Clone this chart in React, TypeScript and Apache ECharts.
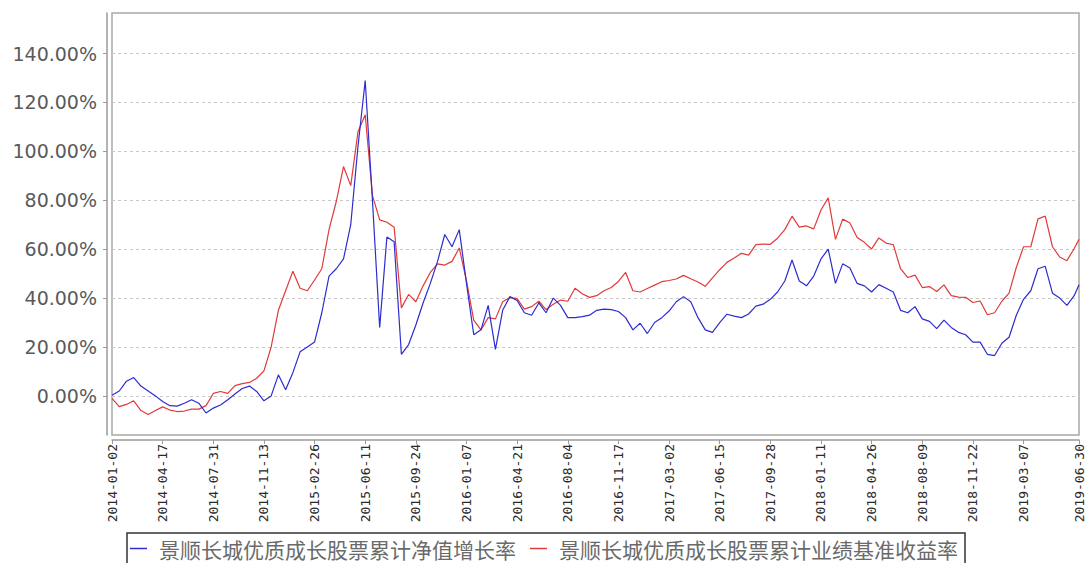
import React, { useEffect, useRef } from "react";
import * as echarts from "echarts";

const DATES = [
  "2014-01-02","2014-01-17","2014-02-01","2014-02-16","2014-03-03","2014-03-18","2014-04-02","2014-04-17","2014-05-02","2014-05-17",
  "2014-06-01","2014-06-16","2014-07-01","2014-07-16","2014-07-31","2014-08-15","2014-08-30","2014-09-14","2014-09-29","2014-10-14",
  "2014-10-29","2014-11-13","2014-11-28","2014-12-13","2014-12-28","2015-01-12","2015-01-27","2015-02-11","2015-02-26","2015-03-13",
  "2015-03-28","2015-04-12","2015-04-27","2015-05-12","2015-05-27","2015-06-11","2015-06-26","2015-07-11","2015-07-26","2015-08-10",
  "2015-08-25","2015-09-09","2015-09-24","2015-10-09","2015-10-24","2015-11-08","2015-11-23","2015-12-08","2015-12-23","2016-01-07",
  "2016-01-22","2016-02-06","2016-02-21","2016-03-07","2016-03-22","2016-04-06","2016-04-21","2016-05-06","2016-05-21","2016-06-05",
  "2016-06-20","2016-07-05","2016-07-20","2016-08-04","2016-08-19","2016-09-03","2016-09-18","2016-10-03","2016-10-18","2016-11-02",
  "2016-11-17","2016-12-02","2016-12-17","2017-01-01","2017-01-16","2017-01-31","2017-02-15","2017-03-02","2017-03-17","2017-04-01",
  "2017-04-16","2017-05-01","2017-05-16","2017-05-31","2017-06-15","2017-06-30","2017-07-15","2017-07-30","2017-08-14","2017-08-29",
  "2017-09-13","2017-09-28","2017-10-13","2017-10-28","2017-11-12","2017-11-27","2017-12-12","2017-12-27","2018-01-11","2018-01-26",
  "2018-02-10","2018-02-25","2018-03-12","2018-03-27","2018-04-11","2018-04-26","2018-05-11","2018-05-26","2018-06-10","2018-06-25",
  "2018-07-10","2018-07-25","2018-08-09","2018-08-24","2018-09-08","2018-09-23","2018-10-08","2018-10-23","2018-11-07","2018-11-22",
  "2018-12-07","2018-12-22","2019-01-06","2019-01-21","2019-02-05","2019-02-20","2019-03-07","2019-03-22","2019-04-06","2019-04-21",
  "2019-05-06","2019-05-21","2019-06-05","2019-06-20","2019-06-30",
];

const FUND_NAV = [
  0.3, 2.0, 6.0, 7.5, 4.0, 2.0, 0.0, -2.3, -4.0, -4.2,
  -3.0, -1.6, -3.0, -7.0, -5.0, -3.7, -1.6, 0.8, 3.0, 4.0,
  1.8, -2.0, 0.0, 8.6, 2.5, 9.5, 18.0, 20.0, 22.0, 34.0,
  49.0, 52.0, 56.0, 70.0, 102.0, 129.0, 80.0, 28.0, 65.0, 63.0,
  17.0, 21.0, 29.0, 38.0, 46.0, 55.0, 66.0, 61.0, 68.0, 46.0,
  25.0, 27.0, 37.0, 19.0, 35.0, 40.6, 39.0, 34.0, 33.0, 38.0,
  34.0, 40.0, 37.0, 32.0, 32.0, 32.4, 33.0, 35.0, 35.5, 35.3,
  34.5, 32.0, 27.0, 29.7, 25.5, 30.0, 32.0, 34.7, 38.5, 40.6,
  38.5, 32.0, 27.0, 26.0, 30.0, 33.4, 32.6, 32.0, 33.5, 36.7,
  37.5, 39.5, 42.5, 47.0, 55.6, 47.0, 45.0, 49.0, 56.0, 60.0,
  46.0, 54.0, 52.3, 46.0, 45.0, 42.5, 45.5, 44.0, 42.5, 35.0,
  34.0, 36.5, 31.5, 30.5, 27.5, 31.0, 28.0, 26.0, 25.0, 22.0,
  22.0, 17.0, 16.5, 21.5, 24.0, 33.0, 39.5, 43.0, 52.0, 53.0,
  42.0, 40.0, 37.0, 41.0, 45.5,
];

const BENCHMARK = [
  -1.0, -4.4, -3.5, -2.0, -6.0, -7.6, -6.0, -4.5, -5.8, -6.4,
  -6.2, -5.4, -5.4, -4.0, 1.0, 1.8, 1.0, 4.2, 5.0, 5.5,
  7.2, 10.2, 20.0, 35.0, 43.0, 51.0, 44.0, 43.0, 47.4, 52.0,
  68.0, 79.5, 93.8, 86.0, 108.0, 115.0, 82.0, 72.0, 71.0, 69.0,
  36.0, 41.5, 38.5, 45.0, 50.5, 54.0, 53.5, 55.0, 60.5, 47.0,
  31.0, 27.0, 32.0, 31.5, 38.5, 40.2, 39.8, 35.5, 36.5, 38.7,
  35.3, 37.5, 39.2, 38.7, 44.0, 41.8, 40.3, 41.0, 43.0, 44.3,
  46.8, 50.5, 43.0, 42.5, 43.9, 45.3, 46.7, 47.2, 47.8, 49.3,
  47.9, 46.6, 44.8, 48.3, 51.6, 54.6, 56.4, 58.3, 57.6, 61.9,
  62.1, 62.0, 64.5, 68.0, 73.5, 69.0, 69.5, 68.3, 76.0, 81.0,
  64.0, 72.3, 70.7, 64.8, 62.8, 60.1, 64.6, 62.5, 61.8, 52.0,
  48.4, 49.4, 44.3, 44.7, 42.7, 45.4, 41.0, 40.4, 40.3, 38.2,
  38.8, 33.2, 34.0, 38.7, 42.0, 52.5, 61.0, 61.0, 72.4, 73.5,
  61.0, 56.8, 55.3, 60.3, 64.0,
];

const X_TICKS = [
  "2014-01-02","2014-04-17","2014-07-31","2014-11-13","2015-02-26","2015-06-11","2015-09-24",
  "2016-01-07","2016-04-21","2016-08-04","2016-11-17","2017-03-02","2017-06-15","2017-09-28",
  "2018-01-11","2018-04-26","2018-08-09","2018-11-22","2019-03-07","2019-06-30",
];

const Y_TICKS = [0, 20, 40, 60, 80, 100, 120, 140];

const NAME_FUND = "景顺长城优质成长股票累计净值增长率";
const NAME_BENCH = "景顺长城优质成长股票累计业绩基准收益率";

const ts = (d: string) => {
  const [y, m, day] = d.split("-").map(Number);
  return Date.UTC(y, m - 1, day);
};
const fmt = (v: number) => {
  const dt = new Date(Math.round(v));
  const mm = String(dt.getUTCMonth() + 1).padStart(2, "0");
  const dd = String(dt.getUTCDate()).padStart(2, "0");
  return `${dt.getUTCFullYear()}-${mm}-${dd}`;
};

export default function App() {
  const ref = useRef<HTMLDivElement>(null);
  useEffect(() => {
    if (!ref.current) return;
    const chart = echarts.init(ref.current, undefined, { renderer: "svg" });
    const axisGray = "#9a9a9a";
    const xTickValues = X_TICKS.map(ts);
    chart.setOption({
      animation: false,
      backgroundColor: "#ffffff",
      grid: {
        left: 112,
        right: 7,
        top: 13,
        bottom: 128,
        show: true,
        borderColor: "#a8a8a8",
        borderWidth: 1.5,
        backgroundColor: "transparent",
      },
      legend: {
        data: [NAME_FUND, NAME_BENCH],
        left: 127,
        top: 533,
        orient: "horizontal",
        icon: "rect",
        borderColor: "#333333",
        borderWidth: 1.5,
        padding: [5, 7, 5, 3],
        itemGap: 14,
        itemWidth: 17,
        itemHeight: 1.5,
        textStyle: {
          fontFamily: "Noto Sans CJK SC",
          fontSize: 21,
          color: "#6a6a6a",
          padding: [0, 0, 0, 7],
        },
      },
      xAxis: {
        type: "value",
        min: ts(DATES[0]),
        max: ts(DATES[DATES.length - 1]),
        offset: 5,
        axisLine: { show: true, onZero: false, lineStyle: { color: axisGray, width: 1.5 } },
        axisTick: {
          show: true,
          length: 4,
          lineStyle: { color: axisGray },
          customValues: xTickValues,
        },
        axisLabel: {
          rotate: 90,
          margin: 4,
          fontFamily: "DejaVu Sans Mono",
          fontSize: 13,
          color: "#2a2a2a",
          customValues: xTickValues,
          hideOverlap: false,
          formatter: (v: number) => fmt(v),
        },
        splitLine: { show: false },
      },
      yAxis: {
        type: "value",
        min: -16,
        max: 156.6,
        splitNumber: 8,
        minInterval: 20,
        maxInterval: 20,
        offset: 5,
        axisLine: { show: true, lineStyle: { color: axisGray, width: 1.5 } },
        axisTick: {
          show: true,
          length: 4,
          lineStyle: { color: axisGray },
          customValues: Y_TICKS,
        },
        axisLabel: {
          margin: 10,
          fontFamily: "DejaVu Sans",
          fontSize: 19,
          color: "#5a5a5a",
          customValues: Y_TICKS,
          formatter: (v: number) => v.toFixed(2) + "%",
        },
        splitLine: {
          show: true,
          lineStyle: { color: "#c8c8c8", type: [3, 3], width: 1 },
        },
      },
      series: [
        {
          name: NAME_BENCH,
          type: "line",
          showSymbol: false,
          symbol: "none",
          lineStyle: { color: "#e03a3a", width: 1.2 },
          itemStyle: { color: "#e03a3a" },
          data: DATES.map((d, i) => [ts(d), BENCHMARK[i]]),
        },
        {
          name: NAME_FUND,
          type: "line",
          showSymbol: false,
          symbol: "none",
          lineStyle: { color: "#2c2cd0", width: 1.2 },
          itemStyle: { color: "#2c2cd0" },
          data: DATES.map((d, i) => [ts(d), FUND_NAV[i]]),
        },
      ],
    });
    return () => chart.dispose();
  }, []);
  return (
    <div
      ref={ref}
      style={{ position: "absolute", left: 0, top: 0, width: 1086, height: 563 }}
    />
  );
}
